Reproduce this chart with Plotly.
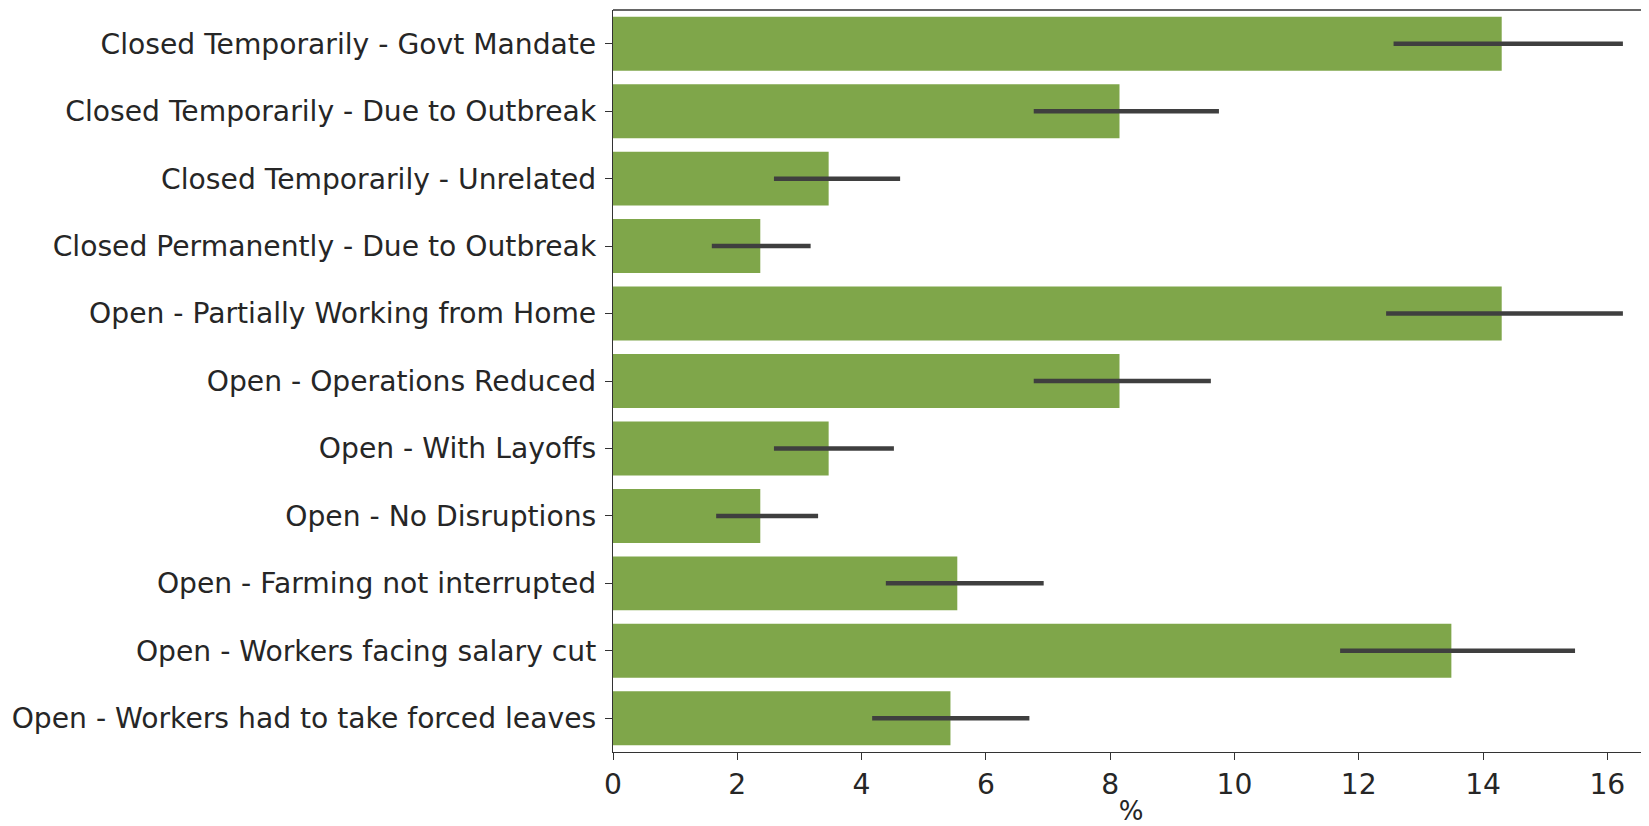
import plotly.graph_objects as go

categories = [
    "Closed Temporarily - Govt Mandate",
    "Closed Temporarily - Due to Outbreak",
    "Closed Temporarily - Unrelated",
    "Closed Permanently - Due to Outbreak",
    "Open - Partially Working from Home",
    "Open - Operations Reduced",
    "Open - With Layoffs",
    "Open - No Disruptions",
    "Open - Farming not interrupted",
    "Open - Workers facing salary cut",
    "Open - Workers had to take forced leaves",
]
values = [14.30, 8.15, 3.47, 2.37, 14.30, 8.15, 3.47, 2.37, 5.54, 13.49, 5.43]
ci_low = [12.56, 6.77, 2.59, 1.59, 12.44, 6.77, 2.59, 1.66, 4.39, 11.70, 4.17]
ci_high = [16.25, 9.75, 4.62, 3.18, 16.25, 9.62, 4.52, 3.30, 6.93, 15.48, 6.70]
x_ticks = [0, 2, 4, 6, 8, 10, 12, 14, 16]

W, H = 1641, 818
L, R, T, B = 605, 0, 1.5, 74
FS = 28.2

err_plus = [h - v for h, v in zip(ci_high, values)]
err_minus = [v - l for l, v in zip(ci_low, values)]

fig = go.Figure()
fig.add_trace(go.Bar(
    y=categories,
    x=values,
    orientation="h",
    width=0.8,
    marker=dict(color="#7fa64a", line=dict(width=0)),
    error_x=dict(
        type="data",
        symmetric=False,
        array=err_plus,
        arrayminus=err_minus,
        color="#3f3f3f",
        thickness=4.5,
        width=0,
    ),
    hoverinfo="x+y",
))

fig.update_layout(
    width=W,
    height=H,
    margin=dict(l=L, r=R, t=T, b=B, pad=0),
    paper_bgcolor="white",
    plot_bgcolor="white",
    showlegend=False,
    font=dict(family="DejaVu Sans", size=FS, color="#262626"),
    bargap=0.2,
)
fig.update_xaxes(
    range=[0, 16.67],
    tickmode="array",
    tickvals=x_ticks,
    ticktext=[str(t) for t in x_ticks],
    ticks="outside",
    ticklen=7,
    tickwidth=1.2,
    tickcolor="#333333",
    showline=True,
    linecolor="#333333",
    linewidth=1.3,
    showgrid=False,
    zeroline=False,
    title=dict(text="%", standoff=2, font=dict(size=26)),
    automargin=False,
)
fig.update_yaxes(
    categoryorder="array",
    categoryarray=categories,
    range=[10.5, -0.5],
    ticks="outside",
    ticklen=7,
    tickwidth=1.2,
    tickcolor="#333333",
    ticklabelstandoff=3,
    showline=True,
    linecolor="#333333",
    linewidth=1.3,
    showgrid=False,
    zeroline=False,
    automargin=False,
)
fig.add_shape(type="line", xref="paper", yref="paper", x0=0, x1=1, y0=1, y1=1,
              line=dict(color="#333333", width=1.3))

fig.write_html("out.html")
